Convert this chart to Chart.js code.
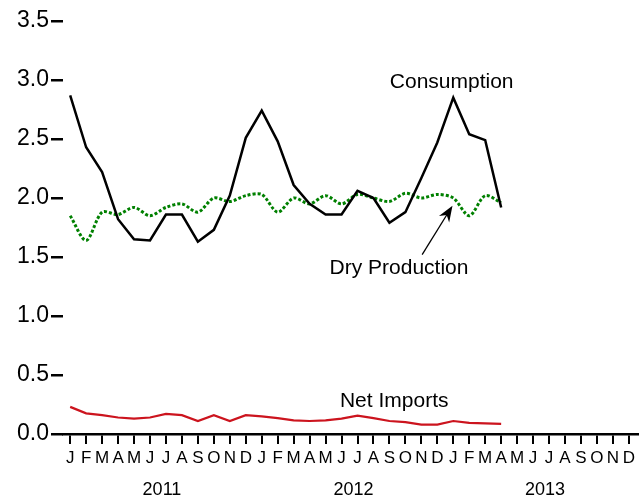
<!DOCTYPE html>
<html>
<head>
<meta charset="utf-8">
<script src="https://cdn.jsdelivr.net/npm/chart.js@4"></script>
<style>
  body { margin: 0; background: #fff; }
  #wrap { width: 639px; height: 500px; position: relative; }
</style>
</head>
<body>
<div id="wrap"><canvas id="grafico"></canvas></div>
<script>
/* dados */
const months = ['J','F','M','A','M','J','J','A','S','O','N','D',
                'J','F','M','A','M','J','J','A','S','O','N','D',
                'J','F','M','A','M','J','J','A','S','O','N','D'];
const years = ['2011', '2012', '2013'];
const yTicks = [0, 0.5, 1.0, 1.5, 2.0, 2.5, 3.0, 3.5];

const consumption = [2.87, 2.43, 2.22, 1.82, 1.65, 1.64, 1.86, 1.86, 1.63, 1.73, 2.02, 2.51,
                     2.74, 2.48, 2.11, 1.95, 1.86, 1.86, 2.06, 2.00, 1.79, 1.88, 2.17, 2.47,
                     2.85, 2.54, 2.49, 1.92];
const dryProduction = [1.85, 1.64, 1.88, 1.86, 1.92, 1.85, 1.92, 1.95, 1.88, 2.00, 1.97, 2.02,
                       2.03, 1.88, 2.00, 1.95, 2.02, 1.95, 2.03, 2.00, 1.97, 2.04, 2.00, 2.03,
                       2.00, 1.85, 2.02, 1.96];
const netImports = [0.23, 0.175, 0.16, 0.14, 0.13, 0.14, 0.17, 0.16, 0.11, 0.16, 0.11, 0.16,
                    0.15, 0.135, 0.115, 0.11, 0.115, 0.13, 0.155, 0.135, 0.11, 0.10, 0.08, 0.08,
                    0.11, 0.095, 0.09, 0.085];

const FONT = '"Liberation Sans", Arial, sans-serif';
const pts = arr => arr.map((v, i) => ({ x: i, y: v }));

/* rotulos, anos e seta */
const extras = {
  id: 'extras',
  afterDatasetsDraw(chart) {
    const { ctx, scales: { x, y } } = chart;
    ctx.save();
    ctx.fillStyle = '#000';
    ctx.textAlign = 'center';
    ctx.textBaseline = 'alphabetic';
    ctx.font = '21px ' + FONT;
    ctx.fillText('Consumption', x.getPixelForValue(23.9), y.getPixelForValue(2.93));
    ctx.fillText('Dry Production', x.getPixelForValue(20.6), y.getPixelForValue(1.36));
    ctx.fillText('Net Imports', x.getPixelForValue(20.3), y.getPixelForValue(0.23));

    // seta
    const x0 = x.getPixelForValue(22.05), y0 = y.getPixelForValue(1.52);
    const x1 = x.getPixelForValue(23.95), y1 = y.getPixelForValue(1.935);
    const ang = Math.atan2(y1 - y0, x1 - x0);
    ctx.strokeStyle = '#000';
    ctx.lineWidth = 1.3;
    ctx.beginPath();
    ctx.moveTo(x0, y0);
    ctx.lineTo(x1 - 8 * Math.cos(ang), y1 - 8 * Math.sin(ang));
    ctx.stroke();
    ctx.beginPath();
    ctx.moveTo(x1, y1);
    ctx.lineTo(x1 - 16 * Math.cos(ang) + 6 * Math.sin(ang), y1 - 16 * Math.sin(ang) - 6 * Math.cos(ang));
    ctx.lineTo(x1 - 11 * Math.cos(ang), y1 - 11 * Math.sin(ang));
    ctx.lineTo(x1 - 16 * Math.cos(ang) - 6 * Math.sin(ang), y1 - 16 * Math.sin(ang) + 6 * Math.cos(ang));
    ctx.closePath();
    ctx.fill();

    // anos
    ctx.font = '18px ' + FONT;
    years.forEach((yr, i) => {
      ctx.fillText(yr, x.getPixelForValue(i * 12 + 5.75), 495);
    });
    ctx.restore();
  }
};

new Chart(document.getElementById('grafico'), {
  type: 'line',
  data: {
    datasets: [
      {
        label: 'Consumption',
        data: pts(consumption),
        borderColor: '#000',
        borderWidth: 2.5,
        pointRadius: 0,
        tension: 0
      },
      {
        label: 'Dry Production',
        data: pts(dryProduction),
        borderColor: 'rgb(0,128,0)',
        borderWidth: 3,
        borderDash: [3, 2],
        pointRadius: 0,
        tension: 0.3
      },
      {
        label: 'Net Imports',
        data: pts(netImports),
        borderColor: 'rgb(204,20,30)',
        borderWidth: 2.2,
        pointRadius: 0,
        tension: 0
      }
    ]
  },
  options: {
    responsive: true,
    maintainAspectRatio: false,
    animation: false,
    layout: { padding: { top: 21, right: 0, left: 0, bottom: 0 } },
    plugins: {
      legend: { display: false },
      tooltip: { enabled: false }
    },
    scales: {
      x: {
        type: 'linear',
        min: -0.45,
        max: 35.56,
        afterBuildTicks: s => { s.ticks = months.map((_, i) => ({ value: i })); },
        afterFit: s => { s.height = 66; },
        ticks: {
          autoSkip: false,
          maxRotation: 0,
          padding: 4,
          color: '#000',
          font: { size: 17, family: FONT },
          callback: v => months[v]
        },
        grid: {
          drawOnChartArea: false,
          drawTicks: true,
          tickLength: 10,
          color: '#000',
          lineWidth: 2
        },
        border: { display: true, color: '#000', width: 2.5 }
      },
      y: {
        min: 0,
        max: 3.5,
        afterBuildTicks: s => { s.ticks = yTicks.map(v => ({ value: v })); },
        afterFit: s => { s.width = 63; },
        ticks: {
          padding: 2,
          color: '#000',
          font: { size: 23, family: FONT },
          callback: v => v.toFixed(1)
        },
        grid: {
          drawOnChartArea: false,
          drawTicks: true,
          tickLength: 12,
          color: '#000',
          lineWidth: 2.5
        },
        border: { display: false }
      }
    }
  },
  plugins: [extras]
});
</script>
</body>
</html>
